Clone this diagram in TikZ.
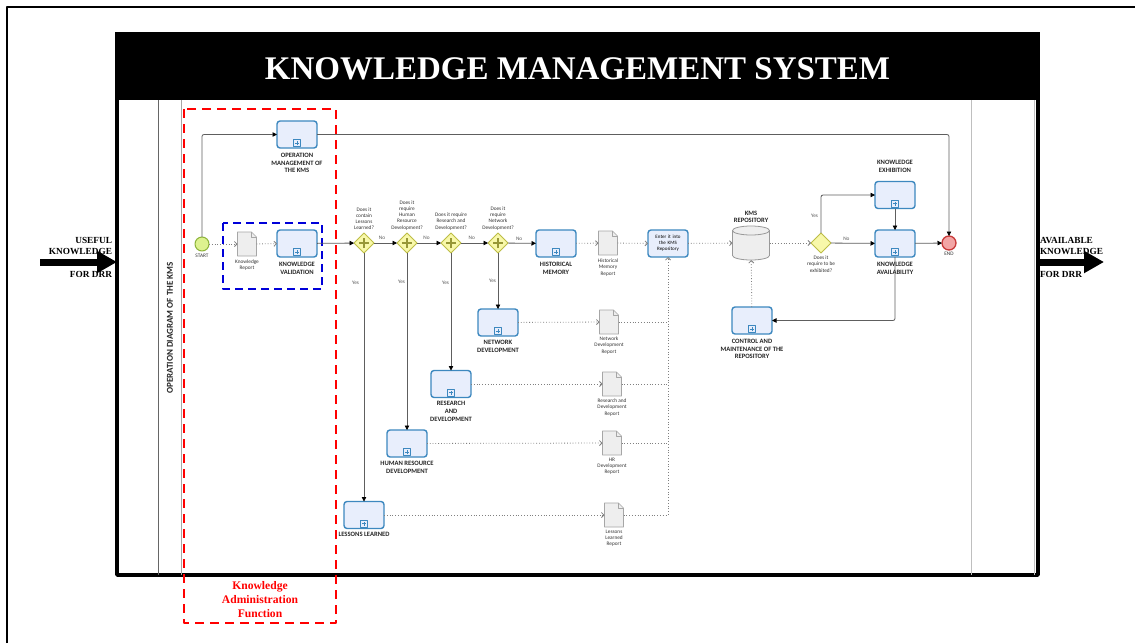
\documentclass[tikz,border=0pt]{standalone}
\usepackage{fontspec}
\setmainfont{Liberation Serif}
\newfontfamily\bpmnfont{Carlito}
\usetikzlibrary{positioning,shapes.geometric,arrows.meta}
\definecolor{taskfill}{HTML}{E8EEFC}
\definecolor{taskline}{HTML}{3D88BF}
\definecolor{gatefill}{HTML}{F8F8AA}
\definecolor{gateline}{HTML}{BDBD45}
\definecolor{startfill}{HTML}{DDF28F}
\definecolor{startline}{HTML}{8DB43A}
\definecolor{endfill}{HTML}{F2A5A5}
\definecolor{endline}{HTML}{C93A3A}
\definecolor{docfill}{HTML}{EEEEEE}
\definecolor{docline}{HTML}{A6A6A6}
\definecolor{flowline}{HTML}{5E5E5E}
\begin{document}
\begin{tikzpicture}[x=1pt, y=-1pt, line join=round, >=Triangle]
			\tikzset{every node/.style={inner sep=0pt, outer sep=0pt},
				task/.style={draw=taskline, fill=taskfill, line width=1.4pt, rounded corners=3pt, minimum width=40pt, minimum height=27pt},
				gate/.style={diamond, draw=gateline, fill=gatefill, line width=1pt, minimum width=20pt, minimum height=20pt},
				doc/.style={minimum width=19pt, minimum height=24pt},
				dbase/.style={minimum width=37pt, minimum height=34pt},
				ev/.style={circle, minimum size=14pt, line width=1pt},
				tlbl/.style={font=\bpmnfont\bfseries\fontsize{6.6}{7.8}\selectfont, align=center, text=black!85},
				qlbl/.style={font=\bpmnfont\fontsize{5.3}{6.2}\selectfont, align=center, text=black!80},
				yn/.style={font=\bpmnfont\fontsize{5.3}{6}\selectfont, text=black!65},
				flow/.style={draw=flowline, line width=0.8pt, rounded corners=2pt, -{Triangle[length=4.5pt,width=4.5pt,black]}},
				assoc/.style={draw=black!50, line width=0.8pt, dotted, -{Straight Barb[length=2.5pt,width=5pt]}},
				bigarrow/.style={line width=7pt, -{Triangle[length=20pt,width=21pt]}},
				side/.style={font=\bfseries\fontsize{9.3}{11}\selectfont}}
			\def \W{1135}
			\def \H{643}
			\useasboundingbox (0,0) rectangle (\W,\H);
			\fill[white] (0,0) rectangle (\W,\H);
			
			\path 
			(117,32) coordinate (PA)
			(1038,575) coordinate (PB)
			(40,262) coordinate (inL)
			(117,262) coordinate (inR)
			(1038,262) coordinate (outL)
			(1104,262) coordinate (outR)
			;
			\draw[line width=2pt] (7,\H)--(7,7)--(\W,7);
			\fill[black] (PA) rectangle (1038,100);
			\draw[line width=3.5pt] (PA)--(117,575)--(PB)--(1038,32);
			\node[text=white, font=\bfseries\fontsize{33}{33}\selectfont] (title) at (577.5,68.5) {KNOWLEDGE MANAGEMENT SYSTEM};
			\draw[black!60, line width=0.6pt] (158,100)--(158,575);
			\draw[black!35, line width=0.6pt] (181,100)--(181,575);
			\draw[black!25, line width=0.6pt] (971,100)--(971,575) (1034,100)--(1034,575);
			\node[rotate=90, font=\bpmnfont\bfseries\fontsize{9}{9}\selectfont, text=black!85] (lane) at (170,328) {OPERATION DIAGRAM OF THE KMS};
			
			\draw[red, line width=2.5pt, dash pattern=on 9pt off 6pt] (184,109) rectangle (336,623);
			\node[text=red, font=\bfseries\fontsize{11.6}{14}\selectfont, align=center] (kaf) at (260,600) {Knowledge\\Administration\\Function};
			\draw[blue!85!black, line width=2.5pt, dash pattern=on 8pt off 5pt] (223,223) rectangle (322,289);
			
			\node[ev, draw=startline, fill=startfill] (start) at (202,244) {};
			\node[qlbl] (start-l) [below=3pt of start] {START};
			\node[doc] (krep) at (247,244) {};
			\node[task] (kval) at (297,243.5) {};
			\node[task] (opm) at (297,134.5) {};
			\node[gate] (g1) at (364,243) {};
			\node[gate] (g2) at (407,243) {};
			\node[gate] (g3) at (451,243) {};
			\node[gate] (g4) at (498,243) {};
			\node[task] (hist) at (556,243.5) {};
			\node[doc] (hrep) at (608,243) {};
			\node[task, text width=36pt, align=center, font=\bpmnfont\fontsize{5}{6}\selectfont] (enter) at (668,243.5) {Enter it into\\the KMS\\Repository};
			\node[dbase] (repo) at (751,243) {};
			\node[gate] (gx) at (821,243) {};
			\node[task] (kex) at (895,195) {};
			\node[task] (kav) at (895,243.5) {};
			\node[ev, draw=endline, fill=endfill, line width=1.3pt] (end) at (949,243) {};
			\node[task] (ctl) at (752,320.5) {};
			\node[task] (netd) at (498,322.5) {};
			\node[task] (resd) at (451,384) {};
			\node[task] (hrd) at (407,443.5) {};
			\node[task] (lesl) at (364,515) {};
			\node[doc] (ndrep) at (609,322) {};
			\node[doc] (rdrep) at (612,384) {};
			\node[doc] (hrrep) at (612,443) {};
			\node[doc] (llrep) at (614,515) {};
			
			\foreach \t in {opm,kval,hist,kex,kav,ctl,netd,resd,hrd,lesl} {
				\draw[taskline, line width=0.7pt, fill=taskfill] ([xshift=-3.5pt,yshift=1.2pt]\t.south) rectangle ([xshift=3.5pt,yshift=8.2pt]\t.south);
				\draw[taskline, line width=0.8pt] ([xshift=-2pt,yshift=4.7pt]\t.south)--([xshift=2pt,yshift=4.7pt]\t.south) ([yshift=2.7pt]\t.south)--([yshift=6.7pt]\t.south);
			}
			\foreach \g in {g1,g2,g3,g4} \draw[gateline!80!black, line width=1.8pt] ([xshift=-5pt]\g.center)--([xshift=5pt]\g.center) ([yshift=-5pt]\g.center)--([yshift=5pt]\g.center);
			\foreach \d in {krep,hrep,ndrep,rdrep,hrrep,llrep} {
				\filldraw[fill=docfill, draw=docline, line width=0.6pt] (\d.south west)--(\d.north west)--([xshift=-5pt]\d.north east)--([yshift=-5pt]\d.north east)--(\d.south east)--cycle;
				\draw[docline, line width=0.5pt] ([xshift=-5pt]\d.north east)--([xshift=-5pt,yshift=-5pt]\d.north east)--([yshift=-5pt]\d.north east);
			}
			\filldraw[fill=docfill, draw=black!40, line width=0.8pt] ([yshift=-4.5pt]repo.north west)--([yshift=4.5pt]repo.south west) arc(180:360:18.5pt and 4.5pt)--([yshift=-4.5pt]repo.north east) arc(0:180:18.5pt and 4.5pt)--cycle;
			\draw[black!40, line width=0.8pt] ([yshift=-4.5pt]repo.north west) arc(180:360:18.5pt and 4.5pt);
			
			\node[tlbl] (opm-l) [below=5pt of opm] {OPERATION\\MANAGEMENT OF\\THE KMS};
			\node[tlbl] (kval-l) [below=5pt of kval] {KNOWLEDGE\\VALIDATION};
			\node[tlbl] (hist-l) [below=5pt of hist] {HISTORICAL\\MEMORY};
			\node[tlbl] (kex-l) [above=9pt of kex] {KNOWLEDGE\\EXHIBITION};
			\node[tlbl] (kav-l) [below=5pt of kav] {KNOWLEDGE\\AVAILABILITY};
			\node[tlbl] (ctl-l) [below=5pt of ctl] {CONTROL AND\\MAINTENANCE OF THE\\REPOSITORY};
			\node[tlbl] (netd-l) [below=4pt of netd] {NETWORK\\DEVELOPMENT};
			\node[tlbl] (resd-l) [below=4pt of resd] {RESEARCH\\AND\\DEVELOPMENT};
			\node[tlbl] (hrd-l) [below=4pt of hrd] {HUMAN RESOURCE\\DEVELOPMENT};
			\node[tlbl] (lesl-l) [below=4pt of lesl] {LESSONS LEARNED};
			\node[tlbl] (repo-l) [above=3pt of repo] {KMS\\REPOSITORY};
			\node[qlbl] (g1-l) [above=3pt of g1] {Does it\\contain\\Lessons\\Learned?};
			\node[qlbl] (g2-l) [above=3pt of g2] {Does it\\require\\Human\\Resource\\Development?};
			\node[qlbl] (g3-l) [above=3pt of g3] {Does it require\\Research and\\Development?};
			\node[qlbl] (g4-l) [above=3pt of g4] {Does it\\require\\Network\\Development?};
			\node[qlbl] (gx-l) [below=3pt of gx] {Does it\\require to be\\exhibited?};
			\node[qlbl] (krep-l) [below=4pt of krep] {Knowledge\\Report};
			\node[qlbl] (hrep-l) [below=4pt of hrep] {Historical\\Memory\\Report};
			\node[qlbl] (ndrep-l) [below=3pt of ndrep] {Network\\Development\\Report};
			\node[qlbl] (rdrep-l) [below=3pt of rdrep] {Research and\\Development\\Report};
			\node[qlbl] (hrrep-l) [below=3pt of hrrep] {HR\\Development\\Report};
			\node[qlbl] (llrep-l) [below=3pt of llrep] {Lessons\\Learned\\Report};
			\node[qlbl] (end-l) [below=2pt of end] {END};
			
			\draw[assoc] (start)--(krep);
			\draw[assoc] (krep)--(kval);
			\draw[flow] (start) |- (opm);
			\draw[flow] (opm) -| (end);
			\draw[flow] (kval)--(g1);
			\draw[flow] (g1)-- node[yn, pos=.35, above=3pt] (no1) {No} (g2);
			\draw[flow] (g2)-- node[yn, pos=.4, above=3pt] (no2) {No} (g3);
			\draw[flow] (g3)-- node[yn, pos=.4, above=3pt] (no3) {No} (g4);
			\draw[flow] (g4)-- node[yn, pos=.4, above=3pt] (no4) {No} (hist);
			\draw[flow] (g1)-- node[yn, pos=.12, left=5pt] (yes1) {Yes} (lesl);
			\draw[flow] (g2)-- node[yn, pos=.16, left=2pt] (yes2) {Yes} (hrd);
			\draw[flow] (g3)-- node[yn, pos=.25, left=2pt] (yes3) {Yes} (resd);
			\draw[flow] (g4)-- node[yn, pos=.5, left=2pt] (yes4) {Yes} (netd);
			\draw[assoc] (hist)--(hrep);
			\draw[assoc] (hrep)--(enter);
			\draw[assoc] (enter)--(repo);
			\draw[assoc] (repo)--(gx);
			\draw[flow] (gx) |- node[yn, pos=.22, left=3pt] (yes5) {Yes} (kex);
			\draw[flow] (gx)-- node[yn, pos=.35, above=3pt] (no5) {No} (kav);
			\draw[flow] (kex)--(kav);
			\draw[flow] (kav)--(end);
			\draw[flow] (kav) |- (ctl);
			\draw[assoc] (ctl)--(repo);
			\draw[assoc] (netd)--(ndrep);
			\draw[assoc] (resd)--(rdrep);
			\draw[assoc] (hrd)--(hrrep);
			\draw[assoc] (lesl)--(llrep);
			\foreach \d in {ndrep,rdrep,hrrep} \draw[draw=black!50, line width=0.8pt, dotted] (\d)--(\d -| enter);
			\draw[assoc] (llrep) -| (enter);
			
			\node[side, align=right, anchor=north east] (useful) at (112,237) {USEFUL\\KNOWLEDGE\\[12pt]FOR DRR};
			\node[side, align=left, anchor=north west] (avail) at (1040,237) {AVAILABLE\\KNOWLEDGE\\[12pt]FOR DRR};
			\draw[bigarrow] (inL)--(inR);
			\draw[bigarrow] (outL)--(outR);
		\end{tikzpicture}
\end{document}
